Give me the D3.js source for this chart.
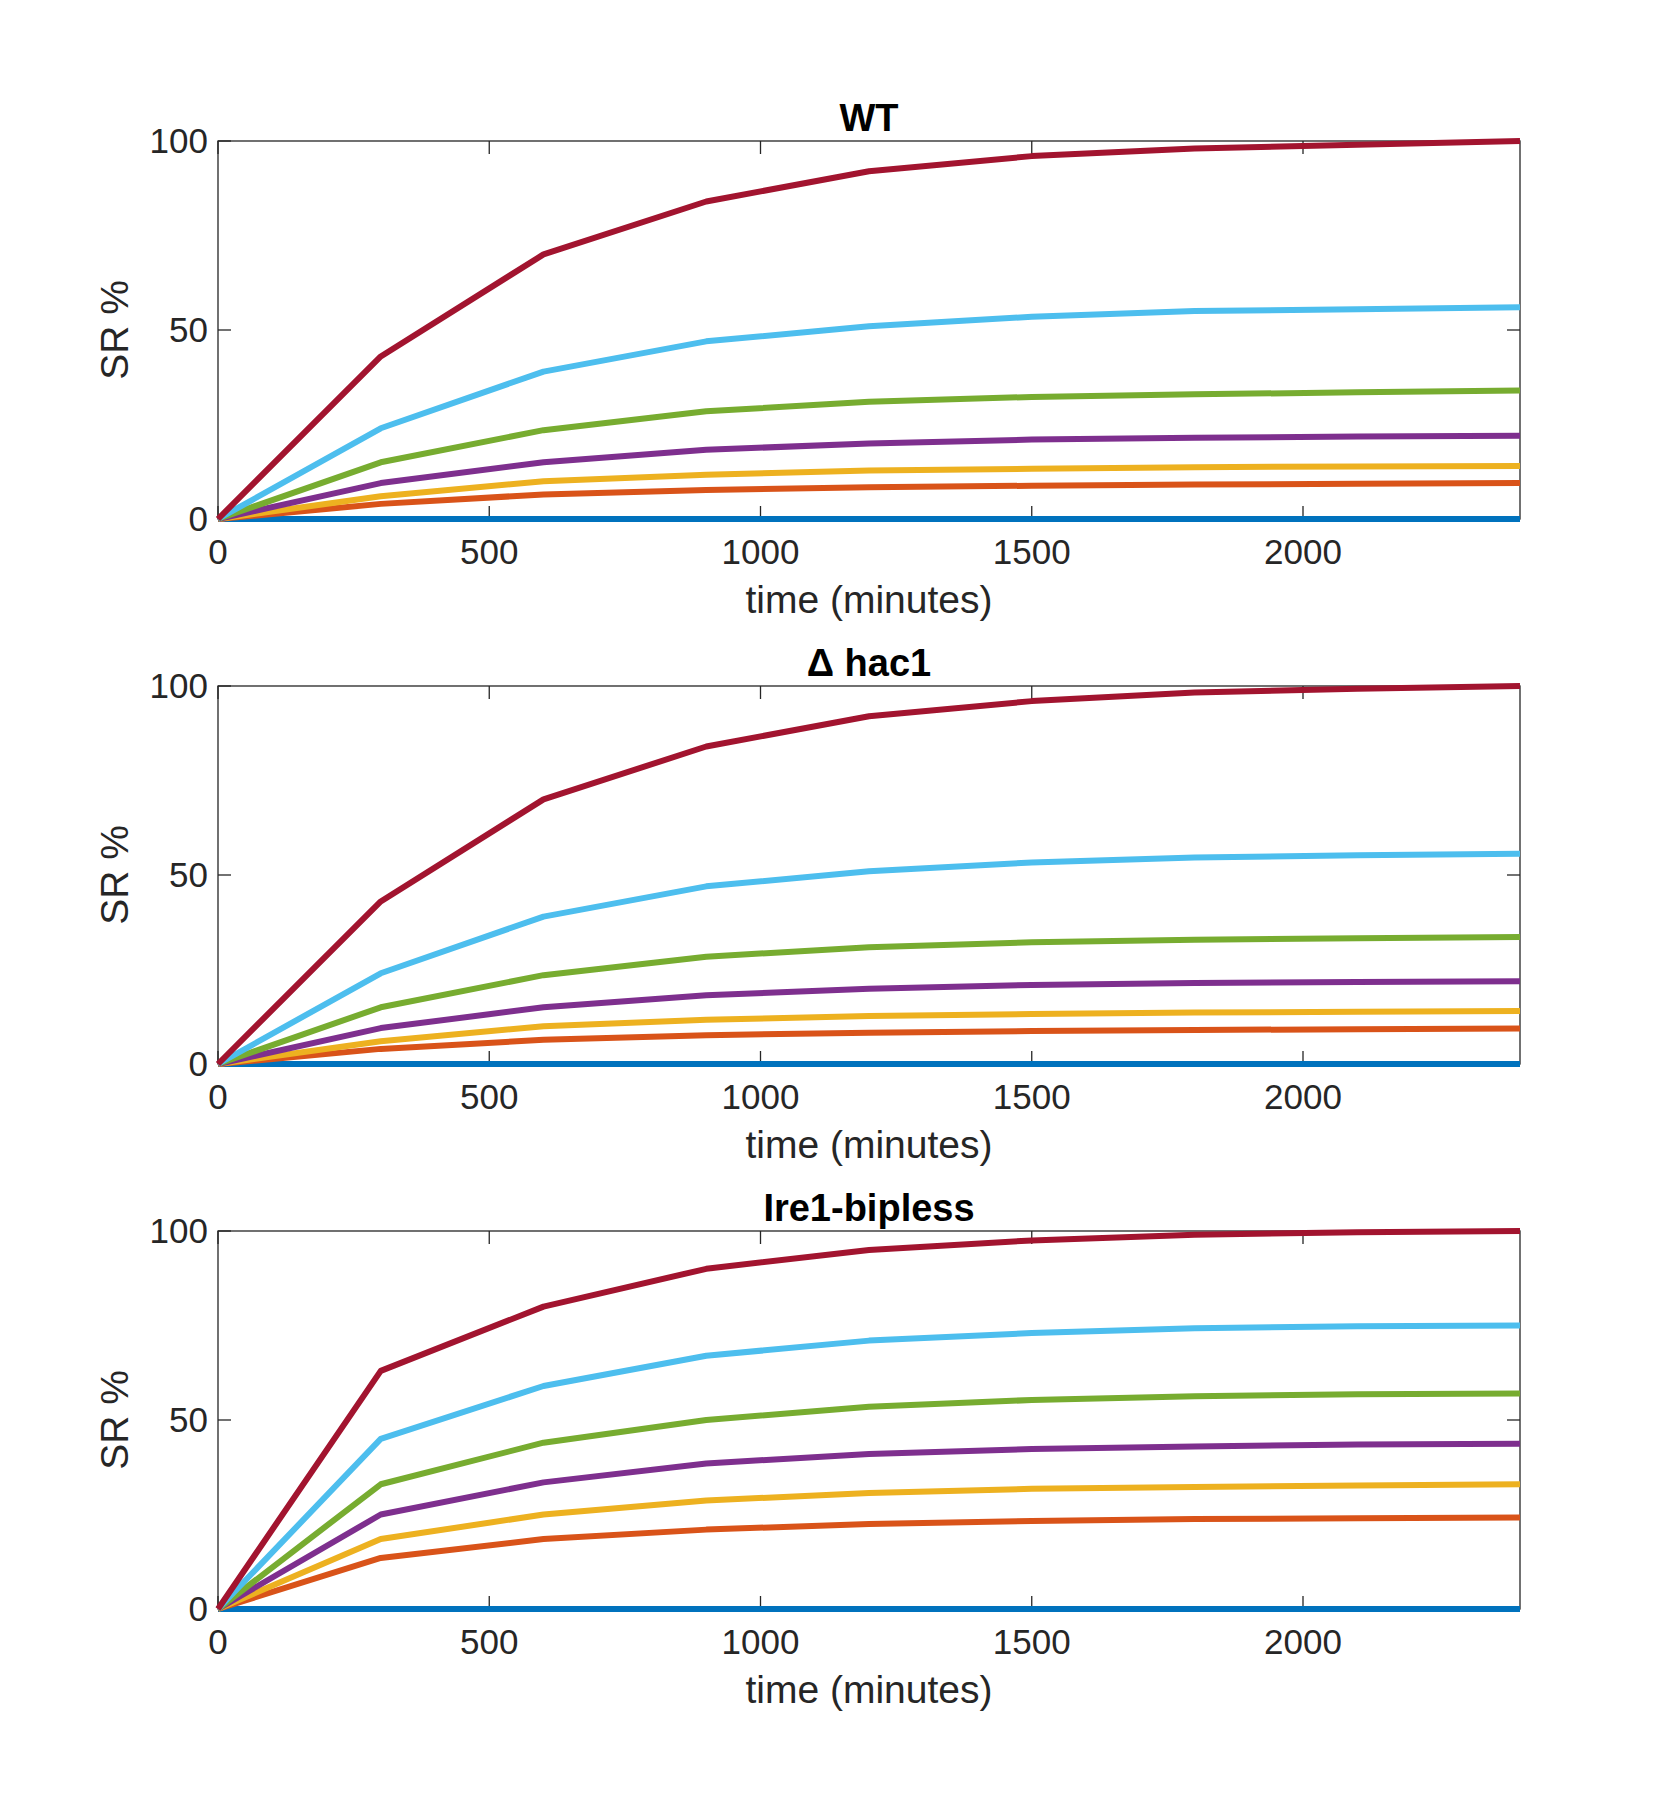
<!DOCTYPE html>
<html><head><meta charset="utf-8">
<script src="https://cdn.jsdelivr.net/npm/d3@7"></script>
<style>body{margin:0;background:#fff}text{font-family:"Liberation Sans",Arial,sans-serif}</style>
</head><body>
<svg id="c" width="1680" height="1816"></svg>
<script>
// time points (minutes)
const times = [0, 300, 600, 900, 1200, 1500, 1800, 2100, 2400];
const titles = ["WT", "\u0394 hac1", "Ire1-bipless"];
const colors = ["#0072BD", "#D95319", "#EDB120", "#7E2F8E", "#77AC30", "#4DBEEE", "#A2142F"];

// series per panel, in draw order (matching colors)
const wtSeries = [
  [0,0,0,0,0,0,0,0,0],
  [0,4,6.5,7.7,8.4,8.8,9.1,9.3,9.5],
  [0,6,10,11.7,12.8,13.3,13.7,13.9,14],
  [0,9.5,15,18.3,20,21,21.5,21.8,22],
  [0,15,23.5,28.5,31,32.3,33,33.5,34],
  [0,24,39,47,51,53.5,55,55.5,56],
  [0,43,70,84,92,96,98,99,100]
];
const hacSeries = [
  [0,0,0,0,0,0,0,0,0],
  [0,4,6.4,7.6,8.3,8.7,9,9.2,9.4],
  [0,6,10,11.7,12.7,13.2,13.6,13.8,14],
  [0,9.5,15,18.2,19.9,20.9,21.4,21.7,21.9],
  [0,15,23.5,28.4,30.9,32.2,32.9,33.3,33.6],
  [0,24,39,47,51,53.3,54.6,55.2,55.6],
  [0,43,70,84,92,96,98.3,99.3,100]
];
const bipSeries = [
  [0,0,0,0,0,0,0,0,0],
  [0,13.5,18.5,21,22.5,23.3,23.8,24,24.2],
  [0,18.5,25,28.7,30.7,31.8,32.3,32.7,33],
  [0,25,33.5,38.5,41,42.3,43,43.5,43.7],
  [0,33,44,50,53.5,55.3,56.3,56.8,57],
  [0,45,59,67,71,73,74.3,74.8,75],
  [0,63,80,90,95,97.5,99,99.7,100]
];
const panels = [wtSeries, hacSeries, bipSeries];
const xTicks = [0, 500, 1000, 1500, 2000];
const yTicks = [0, 50, 100];

const svg = d3.select("#c");
const left = 218, right = 1520, h = 378;
const tops = [141, 686, 1231];

const x = d3.scaleLinear().domain([0, 2400]).range([left, right]);

panels.forEach((series, i) => {
  const top = tops[i];
  const y = d3.scaleLinear().domain([0, 100]).range([top + h, top]);
  const g = svg.append("g");

  // box
  g.append("rect").attr("x", left).attr("y", top).attr("width", right - left).attr("height", h)
    .attr("fill", "none").attr("stroke", "#262626").attr("stroke-width", 1.3);

  // ticks inside, both sides
  const tl = 13;
  xTicks.forEach(t => {
    g.append("line").attr("x1", x(t)).attr("x2", x(t)).attr("y1", top + h).attr("y2", top + h - tl).attr("stroke", "#262626").attr("stroke-width", 1.3);
    g.append("line").attr("x1", x(t)).attr("x2", x(t)).attr("y1", top).attr("y2", top + tl).attr("stroke", "#262626").attr("stroke-width", 1.3);
    g.append("text").attr("x", x(t)).attr("y", top + h + 45).attr("text-anchor", "middle")
      .attr("font-size", 35).attr("fill", "#262626").text(t);
  });
  yTicks.forEach(t => {
    g.append("line").attr("x1", left).attr("x2", left + tl).attr("y1", y(t)).attr("y2", y(t)).attr("stroke", "#262626").attr("stroke-width", 1.3);
    g.append("line").attr("x1", right).attr("x2", right - tl).attr("y1", y(t)).attr("y2", y(t)).attr("stroke", "#262626").attr("stroke-width", 1.3);
    g.append("text").attr("x", left - 10).attr("y", y(t) + 12).attr("text-anchor", "end")
      .attr("font-size", 35).attr("fill", "#262626").text(t);
  });

  const line = d3.line().x((d, j) => x(times[j])).y(d => y(d));
  series.forEach((s, k) => {
    g.append("path").attr("d", line(s)).attr("fill", "none")
      .attr("stroke", colors[k]).attr("stroke-width", 6).attr("stroke-linejoin", "round");
  });

  g.append("text").attr("x", (left + right) / 2).attr("y", top - 10).attr("text-anchor", "middle")
    .attr("font-size", 38).attr("font-weight", "bold").attr("fill", "#000").text(titles[i]);
  g.append("text").attr("x", (left + right) / 2).attr("y", top + h + 94).attr("text-anchor", "middle")
    .attr("font-size", 39).attr("fill", "#262626").text("time (minutes)");
  g.append("text").attr("transform", `translate(128,${top + h / 2}) rotate(-90)`).attr("text-anchor", "middle")
    .attr("font-size", 39).attr("fill", "#262626").text("SR %");
});
</script>
</body></html>
